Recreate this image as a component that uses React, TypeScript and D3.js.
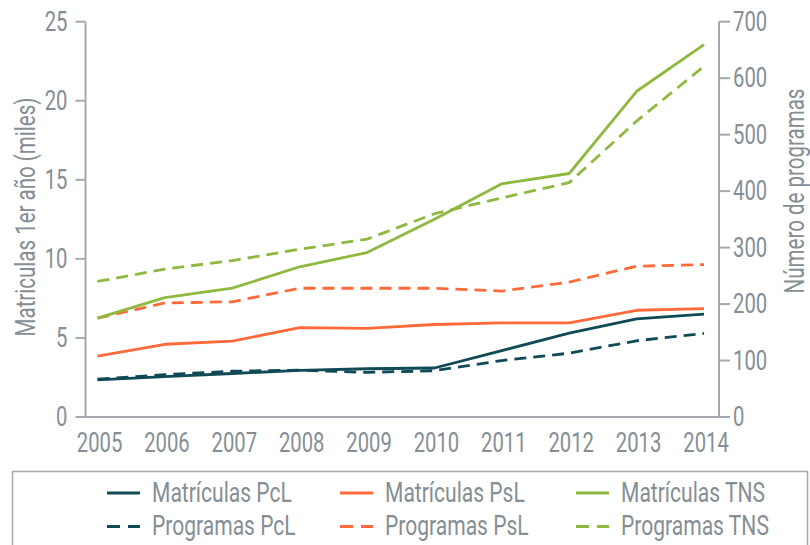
import React from "react";
import * as d3 from "d3";

const years = [2005, 2006, 2007, 2008, 2009, 2010, 2011, 2012, 2013, 2014];
const matPcL = [2.35, 2.55, 2.75, 2.95, 3.05, 3.1, 4.2, 5.3, 6.2, 6.5];
const matPsL = [3.85, 4.6, 4.8, 5.65, 5.6, 5.85, 5.95, 5.95, 6.75, 6.85];
const matTNS = [6.25, 7.55, 8.15, 9.5, 10.4, 12.5, 14.75, 15.4, 20.6, 23.55];
const progPcL = [67, 75, 81, 83, 79, 82, 100, 113, 135, 148];
const progPsL = [175, 202, 204, 228, 228, 228, 223, 239, 267, 270];
const progTNS = [240, 262, 277, 297, 315, 360, 388, 415, 524, 621];
const leftTicks = [0, 5, 10, 15, 20, 25];
const rightTicks = [0, 100, 200, 300, 400, 500, 600, 700];

const C_PCL = "#0f4a56";
const C_PSL = "#ff6a3a";
const C_TNS = "#8fb83e";
const AXIS = "#a3a9ae";
const TEXT = "#858e94";
const FONT = "Roboto, 'Liberation Sans', sans-serif";
const FS = 27;

function T(props: { x: number; y: number; anchor?: string; rotate?: number; sx?: number; children: React.ReactNode }) {
  const { x, y, anchor = "start", rotate = 0, sx = 0.75, children } = props;
  return (
    <text
      transform={`translate(${x},${y}) rotate(${rotate}) scale(${sx},1)`}
      textAnchor={anchor}
      dominantBaseline="central"
      fontFamily={FONT}
      fontSize={FS}
      fontWeight={400}
      fill={TEXT}
    >
      {children}
    </text>
  );
}

export default function App() {
  const W = 810, H = 545;
  const left = 85.5, right = 719, top = 21.7, bottom = 417;
  const x = d3.scaleLinear().domain([2005, 2014]).range([97.5, 704]);
  const yL = d3.scaleLinear().domain([0, 25]).range([bottom, top]);
  const yR = d3.scaleLinear().domain([0, 700]).range([bottom, top]);
  const lineL = d3.line<number>().x((_, i) => x(years[i])).y((v) => yL(v));
  const lineR = d3.line<number>().x((_, i) => x(years[i])).y((v) => yR(v));

  const series = [
    { d: lineR(progTNS), c: C_TNS, dash: true },
    { d: lineR(progPsL), c: C_PSL, dash: true },
    { d: lineR(progPcL), c: C_PCL, dash: true },
    { d: lineL(matTNS), c: C_TNS, dash: false },
    { d: lineL(matPsL), c: C_PSL, dash: false },
    { d: lineL(matPcL), c: C_PCL, dash: false },
  ];

  const legend = [
    { label: "Matrículas PcL", c: C_PCL, dash: false, lx: 107, row: 0 },
    { label: "Matrículas PsL", c: C_PSL, dash: false, lx: 340, row: 0 },
    { label: "Matrículas TNS", c: C_TNS, dash: false, lx: 576, row: 0 },
    { label: "Programas PcL", c: C_PCL, dash: true, lx: 107, row: 1 },
    { label: "Programas PsL", c: C_PSL, dash: true, lx: 340, row: 1 },
    { label: "Programas TNS", c: C_TNS, dash: true, lx: 576, row: 1 },
  ];

  return (
    <svg width={W} height={H} style={{ position: "absolute", left: 0, top: 0, background: "#fff" }}>
      <line x1={left} x2={left} y1={top} y2={bottom} stroke={AXIS} strokeWidth={2} />
      <line x1={right} x2={right} y1={top} y2={bottom} stroke={AXIS} strokeWidth={2} />
      <line x1={left} x2={right} y1={bottom} y2={bottom} stroke={AXIS} strokeWidth={2} />
      {leftTicks.map((t) => (
        <g key={"l" + t}>
          <line x1={left - 10} x2={left} y1={yL(t)} y2={yL(t)} stroke={AXIS} strokeWidth={2} />
          <T x={left - 18} y={yL(t)} anchor="end">{t}</T>
        </g>
      ))}
      {rightTicks.map((t) => (
        <g key={"r" + t}>
          <line x1={right} x2={right + 11} y1={yR(t)} y2={yR(t)} stroke={AXIS} strokeWidth={2} />
          <T x={right + 14} y={yR(t)} anchor="start">{t}</T>
        </g>
      ))}
      {years.map((yr) => (
        <T key={yr} x={x(yr) + 2} y={443} anchor="middle">{yr}</T>
      ))}
      <T x={26} y={217} anchor="middle" rotate={-90} sx={0.76}>Matriculas 1er año (miles)</T>
      <T x={795} y={191} anchor="middle" rotate={-90} sx={0.76}>Número de programas</T>

      {series.map((s, i) => (
        <path
          key={i}
          d={s.d || ""}
          fill="none"
          stroke={s.c}
          strokeWidth={2.8}
          strokeDasharray={s.dash ? "12 7" : undefined}
          strokeLinejoin="round"
        />
      ))}

      <rect x={12.5} y={471.5} width={795} height={90} fill="none" stroke={AXIS} strokeWidth={1.5} />
      {legend.map((l) => {
        const ly = l.row === 0 ? 493 : 526.5;
        return (
          <g key={l.label}>
            <line
              x1={l.lx}
              x2={l.lx + 33}
              y1={ly}
              y2={ly}
              stroke={l.c}
              strokeWidth={3.2}
              strokeDasharray={l.dash ? "13 8" : undefined}
            />
            <T x={l.lx + 45} y={ly} anchor="start" sx={0.78}>{l.label}</T>
          </g>
        );
      })}
    </svg>
  );
}
